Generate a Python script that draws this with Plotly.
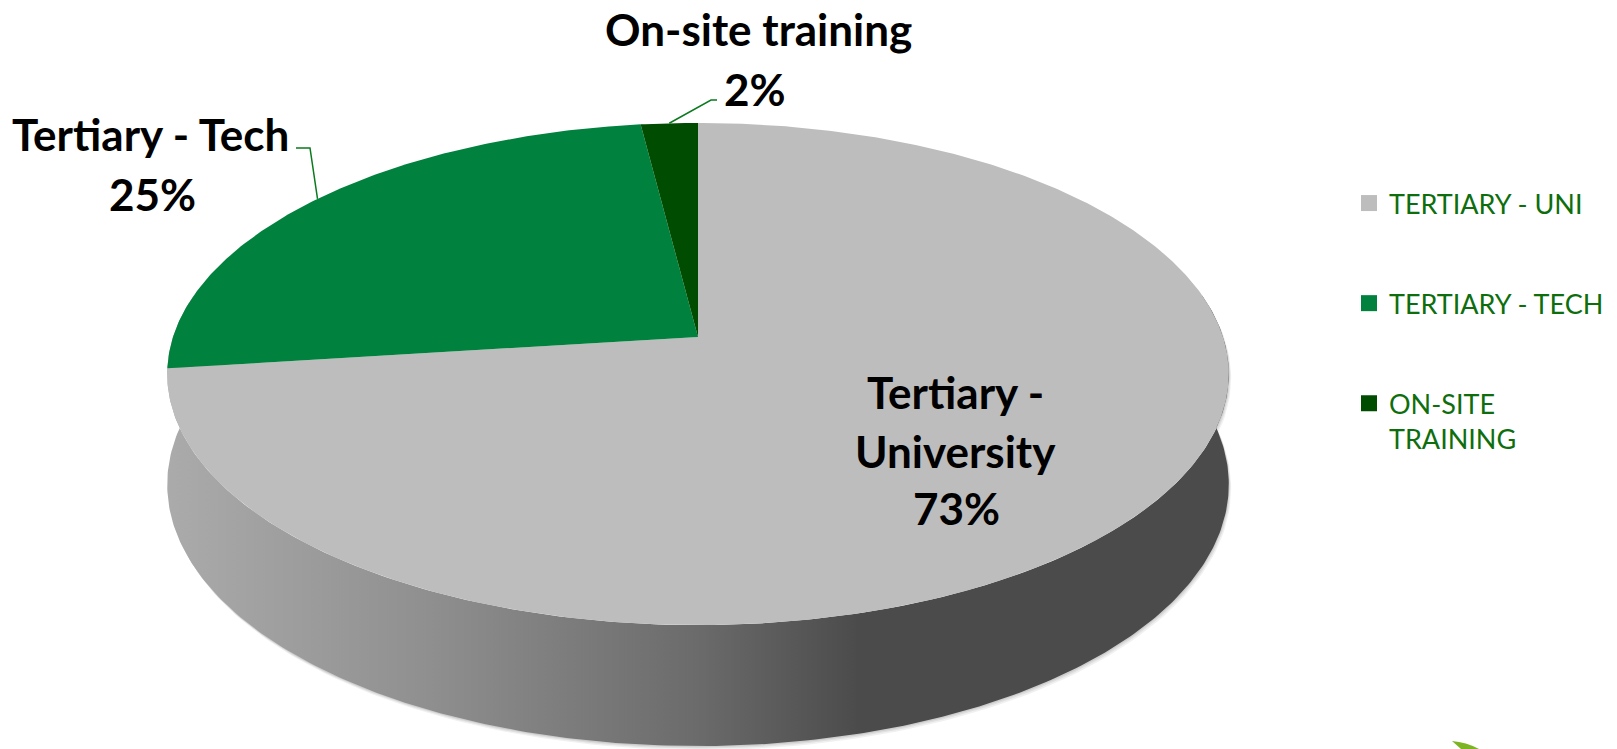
import numpy as np
import plotly.graph_objects as go

# ---------------- data ----------------
categories = ["Tertiary - University", "Tertiary - Tech", "On-site training"]
values = [73, 25, 2]
legend_labels = ["TERTIARY - UNI", "TERTIARY - TECH", "ON-SITE<br>TRAINING"]
label_lines = [["Tertiary -", "University"], ["Tertiary - Tech"], ["On-site training"]]
slice_colors = ["#BDBDBD", "#00813D", "#004C00"]

# ---------------- 3D projection (style parameters) ----------------
W, Hpx = 1617, 749
CX, CY = 698.0, 337.0
FOC, DIST = 3150.0, 6.0
ELEV = np.radians(27.9)
THICK = 0.2387


def proj(theta_deg, z=0.0, r=1.0):
    th = np.radians(np.asarray(theta_deg, dtype=float))
    X = r * np.sin(th)
    Y = r * np.cos(th)
    up = Y * np.sin(ELEV) + z * np.cos(ELEV)
    depth = DIST + Y * np.cos(ELEV) - z * np.sin(ELEV)
    depth_x = DIST + Y * np.cos(ELEV)
    return CX + FOC * X / depth_x, CY - FOC * up / depth


total = float(sum(values))
bounds = np.concatenate([[0.0], np.cumsum(values) / total * 360.0])

fig = go.Figure()

# soft shadow under the pie body
for off, alpha in [(4.0, 0.06), (2.5, 0.07), (1.2, 0.08)]:
    th = np.linspace(60, 300, 200)
    tx, ty = proj(th, 0.0)
    bx, by = proj(th[::-1], -THICK)
    fig.add_trace(go.Scatter(
        x=np.concatenate([tx, bx]) + off * 0.6, y=np.concatenate([ty, by]) + off,
        mode="lines", fill="toself", line=dict(width=0),
        fillcolor=f"rgba(0,0,0,{alpha})", hoverinfo="skip", showlegend=False))

# side wall (only the University slice is visible in front)
th = np.linspace(80, 280, 300)
tx, ty = proj(th, 0.0)
bx, by = proj(th[::-1], -THICK)
xl, xr = 165.0, 1229.0


def xs(v):
    return (v - xl) / (xr - xl)


fig.add_trace(go.Scatter(
    x=np.concatenate([tx, bx]), y=np.concatenate([ty, by]),
    mode="lines", fill="toself", line=dict(width=0),
    fillgradient=dict(type="horizontal", start=xl, stop=xr,
                      colorscale=[[0, "#ABABAB"], [xs(430), "#8F8F8F"],
                                  [xs(697), "#6B6B6B"], [xs(860), "#4B4B4B"],
                                  [1, "#4B4B4B"]]),
    hoverinfo="skip", showlegend=False))

# top face slices
for i, (a0, a1) in enumerate(zip(bounds[:-1], bounds[1:])):
    th = np.linspace(a0, a1, max(4, int((a1 - a0) * 2)))
    ax, ay = proj(th, 0.0)
    px, py = proj(0.0, 0.0, 0.0)
    fig.add_trace(go.Scatter(
        x=np.concatenate([[px], ax, [px]]), y=np.concatenate([[py], ay, [py]]),
        mode="lines", fill="toself", line=dict(width=0),
        fillcolor=slice_colors[i], hoverinfo="skip", showlegend=False,
        name=categories[i]))

# leader lines for the outside labels (to slice mid-points on the rim)
leader_elbows = {1: [(296, 148), (310, 148)], 2: [(717, 100), (711, 100)]}
for i, pts in leader_elbows.items():
    mid = (bounds[i] + bounds[i + 1]) / 2
    ex, ey = proj(mid, 0.0)
    fig.add_trace(go.Scatter(
        x=[pts[0][0], pts[1][0], float(ex)], y=[pts[0][1], pts[1][1], float(ey)],
        mode="lines", line=dict(color="#0B7A1E", width=1.5),
        hoverinfo="skip", showlegend=False))

# legend entries
for i in range(len(categories)):
    fig.add_trace(go.Scatter(
        x=[None], y=[None], mode="markers",
        marker=dict(symbol="square", size=18, color=slice_colors[i]),
        name=legend_labels[i], legendgroup=f"g{i}", showlegend=True))

# data labels
LBL = dict(family="Lato", size=44, color="#000000", weight="bold")
pct = [f"{round(v / total * 100)}%" for v in values]
label_pos = {
    0: [(955, 392), (955, 451), (956, 508)],
    1: [(150, 134), (152, 194)],
    2: [(758, 29), (755, 89)],
}
for i, lines in enumerate(label_lines):
    texts = lines + [pct[i]]
    for t, (x, y) in zip(texts, label_pos[i]):
        fig.add_annotation(x=x, y=y, text=t, showarrow=False, font=LBL,
                           xanchor="center", yanchor="middle")

# small decorative leaf at bottom right of the slide
fig.add_shape(type="path", path="M1452,741 Q1466,742 1479,749 L1461,749 Z",
              fillcolor="#7DB423", line=dict(width=0), layer="above")

fig.update_layout(
    width=W, height=Hpx, margin=dict(l=0, r=0, t=0, b=0),
    paper_bgcolor="white", plot_bgcolor="white",
    xaxis=dict(range=[0, W], visible=False, fixedrange=True),
    yaxis=dict(range=[Hpx, 0], visible=False, fixedrange=True),
    showlegend=True,
    legend=dict(x=1349 / W, y=1 - 179 / Hpx, xanchor="left", yanchor="top",
                font=dict(family="Lato", size=27, color="#0E6E0E"),
                traceorder="grouped", tracegroupgap=62, valign="top",
                bgcolor="rgba(0,0,0,0)", itemsizing="trace"),
)

fig.write_html("out.html", config={"displayModeBar": False},
               post_script="document.body.style.margin='0px';")
